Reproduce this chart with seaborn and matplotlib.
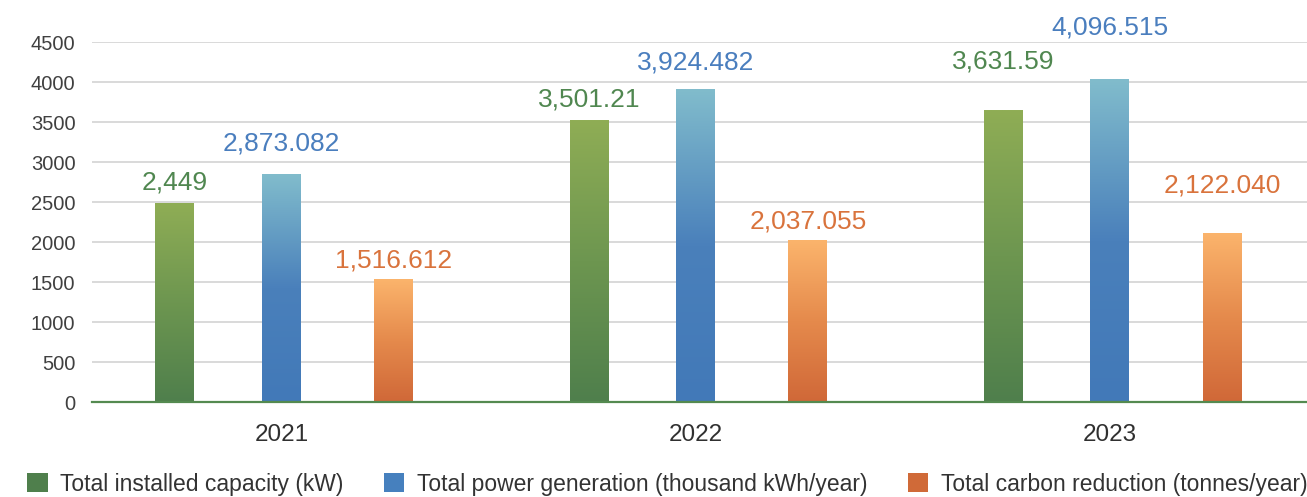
import numpy as np
import pandas as pd
import seaborn as sns
import matplotlib.pyplot as plt
from matplotlib.colors import LinearSegmentedColormap
from matplotlib.patches import Patch

years = ['2021', '2022', '2023']
metrics = ['Total installed capacity (kW)',
           'Total power generation (thousand kWh/year)',
           'Total carbon reduction (tonnes/year)']

# bar heights as drawn in the chart
capacity = [2487, 3525, 3650]
generation = [2850, 3912, 4037]
reduction = [1537, 2025, 2112]

# value labels printed above the bars
capacity_labels = ['2,449', '3,501.21', '3,631.59']
generation_labels = ['2,873.082', '3,924.482', '4,096.515']
reduction_labels = ['1,516.612', '2,037.055', '2,122.040']

df = pd.DataFrame({
    'year': years * 3,
    'metric': [m for m in metrics for _ in years],
    'value': capacity + generation + reduction,
})
labels = [capacity_labels, generation_labels, reduction_labels]

# styling
lift = [[21, 20, 48], [31, 27, 52], [19, 18, 48]]   # label offset above bar (px)
nudge = [0.009, 0.0, 0.004]                          # small dodge correction
grads = [['#4f7f4c', '#6d9650', '#8fad55'],
         ['#4279b8', '#4a80bb', '#81bccc'],
         ['#d06838', '#e58a4c', '#fbb46c']]
label_colors = ['#508750', '#4a7ebe', '#d9733c']
legend_colors = ['#4f7f4c', '#4680be', '#d06a38']

sns.set_style('white')
plt.rcParams['font.family'] = ['Liberation Sans', 'DejaVu Sans']

fig = plt.figure(figsize=(13.07, 4.97), dpi=100)
ax = fig.add_axes([92 / 1307, 95 / 497, 1 - 92 / 1307, 360 / 497])

sns.barplot(data=df, x='year', y='value', hue='metric', hue_order=metrics,
            palette=legend_colors, width=0.8, gap=0.647, legend=False, ax=ax)

for i, container in enumerate(ax.containers):
    cmap = LinearSegmentedColormap.from_list('g%d' % i, grads[i])
    for j, bar in enumerate(container):
        bar.set_x(bar.get_x() + nudge[i])
        x0, w, h = bar.get_x(), bar.get_width(), bar.get_height()
        grad = np.linspace(1, 0, 256).reshape(-1, 1)
        ax.imshow(grad, cmap=cmap, aspect='auto', origin='upper',
                  extent=(x0, x0 + w, 0, h), zorder=2, interpolation='bilinear')
        bar.set_facecolor('none')
        bar.set_edgecolor('none')
        ax.annotate(labels[i][j], (x0 + w / 2, h), xytext=(0, lift[i][j]),
                    textcoords='offset pixels', ha='center', va='center',
                    fontsize=19, color=label_colors[i], annotation_clip=False)

ax.set_xlim(-0.4575, 2.4756)
ax.set_ylim(0, 4500)
ax.set_yticks(range(0, 4501, 500))
ax.set_xlabel('')
ax.set_ylabel('')
ax.yaxis.grid(True, color='#d0d0d0', linewidth=1.1)
ax.set_axisbelow(True)
for s in ['left', 'right', 'top']:
    ax.spines[s].set_visible(False)
ax.spines['bottom'].set_color('#548a50')
ax.spines['bottom'].set_linewidth(1.6)
ax.spines['bottom'].set_zorder(3)
ax.tick_params(axis='y', length=0, pad=12, labelsize=14.5, labelcolor='#404040')
ax.tick_params(axis='x', length=0, pad=16, labelsize=17.5, labelcolor='#303030')

handles = [Patch(facecolor=c, edgecolor='none') for c in legend_colors]
fig.legend(handles, metrics, loc='center left', bbox_to_anchor=(27 / 1307, 1 - 484 / 497),
           ncol=3, frameon=False, fontsize=16.5, handlelength=0.9, handleheight=0.9,
           handletextpad=0.55, columnspacing=1.75, borderpad=0, borderaxespad=0,
           labelcolor='#333333')

fig.savefig('out.png', dpi=100)
